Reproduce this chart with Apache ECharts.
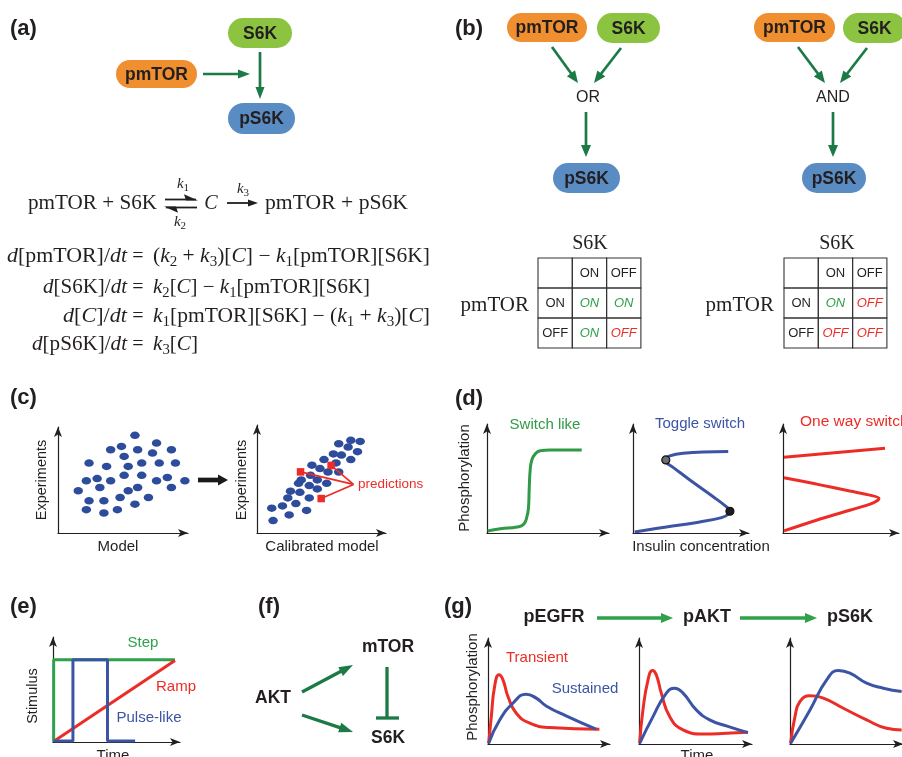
<!DOCTYPE html>
<html><head><meta charset="utf-8">
<style>html,body{margin:0;padding:0;background:#fff}#c{width:902px;height:757px}</style>
<script src="https://cdn.jsdelivr.net/npm/echarts@6/dist/echarts.min.js"></script>
</head><body><div id="c"></div>
<script>
// ================= DATA =================
// (c) scatter: model vs experiments
const modelX = [57,73,39,47,59,70,84,49,23,36,52,62,75,87,29,21,39,49,62,73,81,94,15,31,52,59,84,23,34,46,67,57,21,34,44];
const modelY = [88,81,75,78,75,72,75,69,63,60,60,63,63,63,49,47,47,52,52,47,50,47,38,41,38,41,41,29,29,32,32,26,21,18,21];
const calibX = [70,77,61,68,75,57,63,50,70,59,41,47,53,61,40,33,45,52,31,39,25,32,45,23,39,29,19,11,37,24,12];
const calibY = [82,81,79,76,72,70,69,65,65,62,60,57,54,54,51,47,47,44,44,42,37,36,39,31,31,26,24,22,20,16,11];
const predX = [32.5,55.3,47.9];
const predY = [54.1,59.8,30.5];
const predLabelAnchor = [72,43];
// (d) switches
const switchX = [0.5,10.5,23.6,28.8,31.4,32.7,33.2,34.0,35.3,38.0,41.9,49.7,74.6];
const switchY = [1.8,3.8,5.3,7.6,14.1,22.9,37.6,55.3,64.1,69.4,72.1,72.9,72.9];
const toggleX = [1.4,27.6,55.2,73.2,79.6,80.1,77.3,66.3,47,33.1,27.6,27.1,30.4,41.4,78.7];
const toggleY = [0.9,5.3,9.7,13.5,17.1,19.1,22.9,31.8,46.5,57.6,61.8,64.1,67.6,70,71.5];
const toggleDotX = [27.1,80.1];
const toggleDotY = [64.1,19.1];
const oneWayUpX = [0.8,84.3];
const oneWayUpY = [66.5,74.4];
const oneWayLowX = [0.8,27.6,55.2,71.8,79.3,74.6,55.2,27.6,0.8];
const oneWayLowY = [48.5,42.9,36.8,33.2,30.3,26.5,20.0,11.2,1.8];
// (e) stimuli
const stepX = [0.5,0.5,92.4];
const stepY = [0,74.8,74.8];
const pulseX = [0.5,15.1,15.1,41.3,41.3,62.2];
const pulseY = [0.9,0.9,74.8,74.8,0.9,0.9];
const rampX = [1.8,92.4];
const rampY = [1.5,74.2];
// (g) responses
const egfrTransX = [0.5,2.6,5.2,8.6,11.8,15.7,22.3,33.0,48.4,87.7];
const egfrTransY = [0.6,24.7,51.8,62.3,57.8,42.8,27.7,18.7,14.8,13.3];
const egfrSustX = [0.5,9.2,19.6,30.1,38,45.8,61.5,85.1];
const egfrSustY = [0.6,21.7,36.7,44.9,41.3,34.3,25.3,13.3];
const aktTransX = [0.5,3.1,7.1,10.5,13.6,17.5,24.1,34.6,50.3,68.6,85.6];
const aktTransY = [0.6,30.7,57.8,66.3,62.3,45.8,24.7,12.7,9.0,9.6,10.5];
const aktSustX = [0.5,11,21.5,28,34.6,45,55.5,68.6,85.6];
const aktSustY = [0.6,24.7,45.8,50.3,45.8,30.7,21.7,16.3,10.2];
const s6kTransX = [0.5,3.9,7.9,15.7,26.2,41.9,60.2,75.9,87.7];
const s6kTransY = [0.6,24.7,38.3,43.4,41.3,32.2,21.7,14.2,12.7];
const s6kSustX = [0.5,15.7,28.8,38,47.1,60.2,73.3,87.7];
const s6kSustY = [0.6,30.7,57.8,66.3,63.9,54.8,50.3,47.3];
// (b) truth tables
const tableCols = ['ON','OFF'];
const tableRows = ['ON','OFF'];
const orTable = [['ON','ON'],['ON','OFF']];
const andTable = [['ON','OFF'],['OFF','OFF']];

// ================= STYLE / LAYOUT =================
const SANS = '"Liberation Sans", Arial, Helvetica, sans-serif';
const SERIF = '"Liberation Serif", "Times New Roman", serif';
const INK = '#231f20';
const RED = '#ec2c26', BLUE = '#3b54a4', GREEN = '#2f9a47', DKGREEN = '#1b7a45', LTGREEN = '#2ea14a';
const ORANGE = '#ef8f2f', LEAF = '#8cc441', SKY = '#5a8cc4', DOT = '#2d4c9c';

const G = [];
function txt(x, y, text, o) {
  o = o || {};
  const st = {text: text, fill: o.fill || INK, fontSize: o.size || 15, fontFamily: o.family || SANS,
    fontWeight: o.weight || 'normal', fontStyle: o.style || 'normal',
    align: o.align || 'center', verticalAlign: o.va || 'middle',
    textAlign: o.align || 'center', textVerticalAlign: o.va || 'middle'};
  if (o.rich) { st.rich = o.rich; st.lineHeight = o.lineHeight || 24; }
  const el = {type: 'text', x: x, y: y, rotation: o.rot || 0, style: st, z: 10};
  if (o.scaleX) el.scaleX = o.scaleX;
  G.push(el);
}
function arrow(x1, y1, x2, y2, color, lw, hl, hw) {
  const a = Math.atan2(y2 - y1, x2 - x1), c = Math.cos(a), s = Math.sin(a);
  const bx = x2 - hl * c, by = y2 - hl * s;
  G.push({type: 'line', z: 5, shape: {x1: x1, y1: y1, x2: bx + c, y2: by + s}, style: {stroke: color, lineWidth: lw}});
  G.push({type: 'polygon', z: 5, shape: {points: [[x2, y2], [bx - hw / 2 * s, by + hw / 2 * c], [bx + hw / 2 * s, by - hw / 2 * c]]}, style: {fill: color}});
}
function seg(x1, y1, x2, y2, color, lw) {
  G.push({type: 'line', z: 5, shape: {x1: x1, y1: y1, x2: x2, y2: y2}, style: {stroke: color, lineWidth: lw}});
}
function pill(cx, cy, w, h, color, label) {
  G.push({type: 'rect', z: 4, shape: {x: cx - w / 2, y: cy - h / 2, width: w, height: h, r: h / 2}, style: {fill: color}});
  txt(cx, cy + 1, label, {weight: 'bold', size: 17.5});
}
// rich-text math with horizontal fitting
const mctx = document.createElement('canvas').getContext('2d');
const MATH_BASE = {fontFamily: SERIF, fontSize: 20, fontStyle: 'normal', fontWeight: 'normal'};
const MATH_RICH = {
  i: {fontFamily: SERIF, fontSize: 20, fontStyle: 'italic', lineHeight: 24},
  s: {fontFamily: SERIF, fontSize: 14, lineHeight: 14, verticalAlign: 'bottom'},
  si: {fontFamily: SERIF, fontSize: 15, fontStyle: 'italic', lineHeight: 20},
  ss: {fontFamily: SERIF, fontSize: 11, lineHeight: 11, verticalAlign: 'bottom'}
};
function measureRich(str, base, rich) {
  let w = 0, m; const re = /\{(\w+)\|([^}]*)\}|([^{]+)/g;
  while ((m = re.exec(str))) {
    const st = m[1] ? Object.assign({}, base, rich[m[1]]) : base;
    mctx.font = (st.fontStyle || 'normal') + ' ' + (st.fontWeight || 'normal') + ' ' + st.fontSize + 'px ' + st.fontFamily;
    w += mctx.measureText(m[1] ? m[2] : m[3]).width;
  }
  return w;
}
function math(x, y, str, align, target, size) {
  const base = Object.assign({}, MATH_BASE, size ? {fontSize: size} : {});
  const w = measureRich(str, base, MATH_RICH);
  txt(x, y, str, {family: SERIF, size: base.fontSize, align: align, rich: MATH_RICH, lineHeight: 24,
    scaleX: target ? target / w : 1});
}

// ---------- panel labels ----------
[['(a)', 10, 29], ['(b)', 455, 29], ['(c)', 10, 398], ['(d)', 455, 399], ['(e)', 10, 607], ['(f)', 258, 607], ['(g)', 444, 607]]
  .forEach(p => txt(p[1], p[2], p[0], {weight: 'bold', size: 22, align: 'left'}));

// ---------- (a) ----------
pill(260, 33, 64, 30, LEAF, 'S6K');
pill(156.5, 74, 81, 28, ORANGE, 'pmTOR');
pill(261.5, 118.5, 67, 31, SKY, 'pS6K');
arrow(203, 74, 250, 74, DKGREEN, 2.7, 12, 9);
arrow(260, 52, 260, 99, DKGREEN, 2.7, 12, 9);

// reaction
math(157, 204, 'pmTOR + S6K', 'right', 129);
seg(165, 199.5, 196, 199.5, INK, 1.8);
G.push({type: 'polygon', z: 5, shape: {points: [[198, 200.4], [184, 194.3], [186, 200.4]]}, style: {fill: INK}});
seg(166, 207.5, 197, 207.5, INK, 1.8);
G.push({type: 'polygon', z: 5, shape: {points: [[164, 206.6], [178, 212.7], [176, 206.6]]}, style: {fill: INK}});
math(183, 184, '{si|k}{ss|1}', 'center', 0, 15);
math(180, 222, '{si|k}{ss|2}', 'center', 0, 15);
math(211, 204, '{i|C}', 'center');
arrow(227, 203, 258, 203, INK, 1.8, 10, 7);
math(243, 189, '{si|k}{ss|3}', 'center', 0, 15);
math(265, 204, 'pmTOR + pS6K', 'left', 143);
// ODEs
const EQ_Y = [257, 288, 317, 345];
const eqLeft = ['{i|d}[pmTOR]/{i|dt}', '{i|d}[S6K]/{i|dt}', '{i|d}[{i|C}]/{i|dt}', '{i|d}[pS6K]/{i|dt}'];
const eqLeftW = [120, 84, 64, 95];
const eqRight = ['({i|k}{s|2} + {i|k}{s|3})[{i|C}] − {i|k}{s|1}[pmTOR][S6K]',
  '{i|k}{s|2}[{i|C}] − {i|k}{s|1}[pmTOR][S6K]',
  '{i|k}{s|1}[pmTOR][S6K] − ({i|k}{s|1} + {i|k}{s|3})[{i|C}]',
  '{i|k}{s|3}[{i|C}]'];
const eqRightW = [277, 217, 277, 45];
EQ_Y.forEach((y, k) => {
  math(127, y, eqLeft[k], 'right', eqLeftW[k]);
  math(138, y, '=', 'center');
  math(153, y, eqRight[k], 'left', eqRightW[k]);
});

// ---------- (b) ----------
[[547, 628.5, 586.5, 'OR'], [794.5, 874.5, 834, 'AND']].forEach((b, k) => {
  pill(b[0], 27.5, k ? 81 : 80, 29, ORANGE, 'pmTOR');
  pill(b[1], 28, 63, 30, LEAF, 'S6K');
  pill(b[2], 178, k ? 64 : 67, 30, SKY, 'pS6K');
});
arrow(552, 47, 578, 83, DKGREEN, 2.7, 12, 10);
arrow(621, 48, 594, 83, DKGREEN, 2.7, 12, 10);
arrow(586, 112, 586, 157, DKGREEN, 2.7, 12, 10);
arrow(798, 47, 825, 83, DKGREEN, 2.7, 12, 10);
arrow(867, 48, 840, 83, DKGREEN, 2.7, 12, 10);
arrow(833, 112, 833, 157, DKGREEN, 2.7, 12, 10);
txt(588, 98, 'OR', {size: 16});
txt(833, 98, 'AND', {size: 16});
// tables
function table(x0, title, rowLabelRight, vals) {
  const cw = 34.3, rh = 30, y0 = 258;
  txt(title, 244, 'S6K', {family: SERIF, size: 20});
  txt(rowLabelRight, 305, 'pmTOR', {family: SERIF, size: 21, align: 'right'});
  for (let r = 0; r < 3; r++) for (let c = 0; c < 3; c++) {
    G.push({type: 'rect', z: 3, shape: {x: x0 + c * cw, y: y0 + r * rh, width: cw, height: rh}, style: {fill: 'none', stroke: '#333', lineWidth: 1.1}});
    let t = '', o = {size: 13};
    if (r === 0 && c > 0) t = tableCols[c - 1];
    else if (c === 0 && r > 0) t = tableRows[r - 1];
    else if (r > 0 && c > 0) { t = vals[r - 1][c - 1]; o.style = 'italic'; o.fill = t === 'ON' ? LTGREEN : RED; }
    if (t) txt(x0 + c * cw + cw / 2, y0 + r * rh + rh / 2 + 0.5, t, o);
  }
}
table(538, 590, 529, orTable);
table(784, 837, 774, andTable);

// ---------- (c) ----------
txt(42, 480, 'Experiments', {rot: Math.PI / 2, size: 14.5});
txt(242, 480, 'Experiments', {rot: Math.PI / 2, size: 14.5});
txt(118, 547, 'Model', {size: 15});
txt(322, 547, 'Calibrated model', {size: 15});
txt(358, 484, 'predictions', {size: 13.5, fill: RED, align: 'left'});
arrow(198, 480, 228, 480, '#1a1a1a', 4.7, 10, 11);

// ---------- (d) ----------
txt(465, 478, 'Phosphorylation', {rot: Math.PI / 2, size: 15});
txt(545, 425, 'Switch like', {size: 15, fill: GREEN});
txt(700, 424, 'Toggle switch', {size: 15, fill: BLUE});
txt(800, 422, 'One way switch', {size: 15.5, fill: RED, align: 'left'});
txt(701, 547, 'Insulin concentration', {size: 15});

// ---------- (e) ----------
txt(33, 696, 'Stimulus', {rot: Math.PI / 2, size: 14.5});
txt(143, 643, 'Step', {size: 15, fill: LTGREEN});
txt(176, 687, 'Ramp', {size: 15, fill: RED});
txt(149, 718, 'Pulse-like', {size: 15, fill: BLUE});
txt(113, 748, 'Time', {size: 15, va: 'top'});

// ---------- (f) ----------
txt(273, 698, 'AKT', {weight: 'bold', size: 17.5});
txt(388, 647, 'mTOR', {weight: 'bold', size: 17.5});
txt(388, 738, 'S6K', {weight: 'bold', size: 17.5});
arrow(302, 692, 353, 665, DKGREEN, 3.3, 14, 10);
arrow(302, 715, 353, 732, DKGREEN, 3.3, 14, 10);
seg(387, 667, 387, 718, DKGREEN, 3.3);
seg(376, 718, 399, 718, DKGREEN, 3.3);

// ---------- (g) ----------
txt(554, 617, 'pEGFR', {weight: 'bold', size: 18});
txt(707, 617, 'pAKT', {weight: 'bold', size: 18});
txt(850, 617, 'pS6K', {weight: 'bold', size: 18});
arrow(597, 618, 673, 618, LTGREEN, 3.3, 12, 10);
arrow(740, 618, 817, 618, LTGREEN, 3.3, 12, 10);
txt(473, 687, 'Phosphorylation', {rot: Math.PI / 2, size: 15});
txt(537, 658, 'Transient', {size: 15, fill: RED});
txt(585, 689, 'Sustained', {size: 15, fill: BLUE});
txt(697, 748, 'Time', {size: 15, va: 'top'});

// ================= GRIDS / AXES =================
// [left, top, width, height] to arrow tips; tip values of x and y
const boxes = {
  c1: [58, 422, 135, 111, 100, 100], c2: [257, 420, 134, 113, 100, 100],
  d1: [487, 419, 127, 114, 100, 100], d2: [633, 419, 121, 114, 100, 100], d3: [783, 419, 121, 114, 100, 100],
  e: [53, 632, 132, 110, 100, 100],
  g1: [488, 633, 127, 111, 100, 100], g2: [639, 633, 118, 111, 92.7, 100], g3: [790, 633, 118, 111, 92.7, 100]
};
const grids = [], xAxes = [], yAxes = [], gi = {};
const AH = 5;
Object.keys(boxes).forEach((k, i) => {
  const b = boxes[k]; gi[k] = i;
  grids.push({left: b[0], top: b[1] + AH, width: b[2] - AH, height: b[3] - AH, containLabel: false, outerBoundsMode: 'none'});
  const ax = {type: 'value', gridIndex: i, min: 0, axisTick: {show: false}, axisLabel: {show: false}, splitLine: {show: false},
    axisLine: {show: true, onZero: false, symbol: ['none', 'arrow'], symbolSize: [6, 10], lineStyle: {color: INK, width: 1.2}}};
  xAxes.push(Object.assign({}, ax, {max: b[4] * (b[2] - AH) / b[2]}));
  yAxes.push(Object.assign({}, ax, {max: b[5] * (b[3] - AH) / b[3]}));
});
const zip = (a, b) => a.map((v, i) => [v, b[i]]);
function lineS(g, xs, ys, color, smooth, w) {
  return {type: 'line', xAxisIndex: gi[g], yAxisIndex: gi[g], data: zip(xs, ys), smooth: smooth, showSymbol: false,
    symbol: 'none', clip: false, lineStyle: {color: color, width: w || 3}, itemStyle: {color: color}, z: 3};
}
const series = [
  {type: 'scatter', xAxisIndex: gi.c1, yAxisIndex: gi.c1, data: zip(modelX, modelY), symbol: 'circle', symbolSize: [9.5, 7.5], itemStyle: {color: DOT, opacity: 1}},
  {type: 'scatter', xAxisIndex: gi.c2, yAxisIndex: gi.c2, data: zip(calibX, calibY), symbol: 'circle', symbolSize: [9.5, 7.5], itemStyle: {color: DOT, opacity: 1}}
];
predX.forEach((x, i) => series.push(lineS('c2', [x, predLabelAnchor[0]], [predY[i], predLabelAnchor[1]], RED, false, 1.7)));
series.push({type: 'scatter', xAxisIndex: gi.c2, yAxisIndex: gi.c2, data: zip(predX, predY), symbol: 'rect', symbolSize: 7.5, itemStyle: {color: RED, opacity: 1}, z: 5});
series.push(lineS('d1', switchX, switchY, GREEN, 0.5));
series.push(lineS('d2', toggleX, toggleY, BLUE, 0.4));
series.push({type: 'scatter', xAxisIndex: gi.d2, yAxisIndex: gi.d2, symbol: 'circle', symbolSize: 8, z: 6,
  data: zip(toggleDotX, toggleDotY).map((p, i) => ({value: p, itemStyle: {color: i ? '#1e1e1e' : '#6d6e71', borderColor: '#111', borderWidth: 1.2, opacity: 1}}))});
series.push(lineS('d3', oneWayUpX, oneWayUpY, RED, false));
series.push(lineS('d3', oneWayLowX, oneWayLowY, RED, 0.35));
series.push(lineS('e', stepX, stepY, LTGREEN, false));
series.push(lineS('e', rampX, rampY, RED, false));
series.push(lineS('e', pulseX, pulseY, BLUE, false));
series.push(lineS('g1', egfrTransX, egfrTransY, RED, 0.5));
series.push(lineS('g1', egfrSustX, egfrSustY, BLUE, 0.5));
series.push(lineS('g2', aktTransX, aktTransY, RED, 0.5));
series.push(lineS('g2', aktSustX, aktSustY, BLUE, 0.5));
series.push(lineS('g3', s6kTransX, s6kTransY, RED, 0.5));
series.push(lineS('g3', s6kSustX, s6kSustY, BLUE, 0.5));

const chart = echarts.init(document.getElementById('c'), null, {renderer: 'canvas'});
chart.setOption({animation: false, backgroundColor: '#ffffff', grid: grids, xAxis: xAxes, yAxis: yAxes, series: series, graphic: G});
</script></body></html>
